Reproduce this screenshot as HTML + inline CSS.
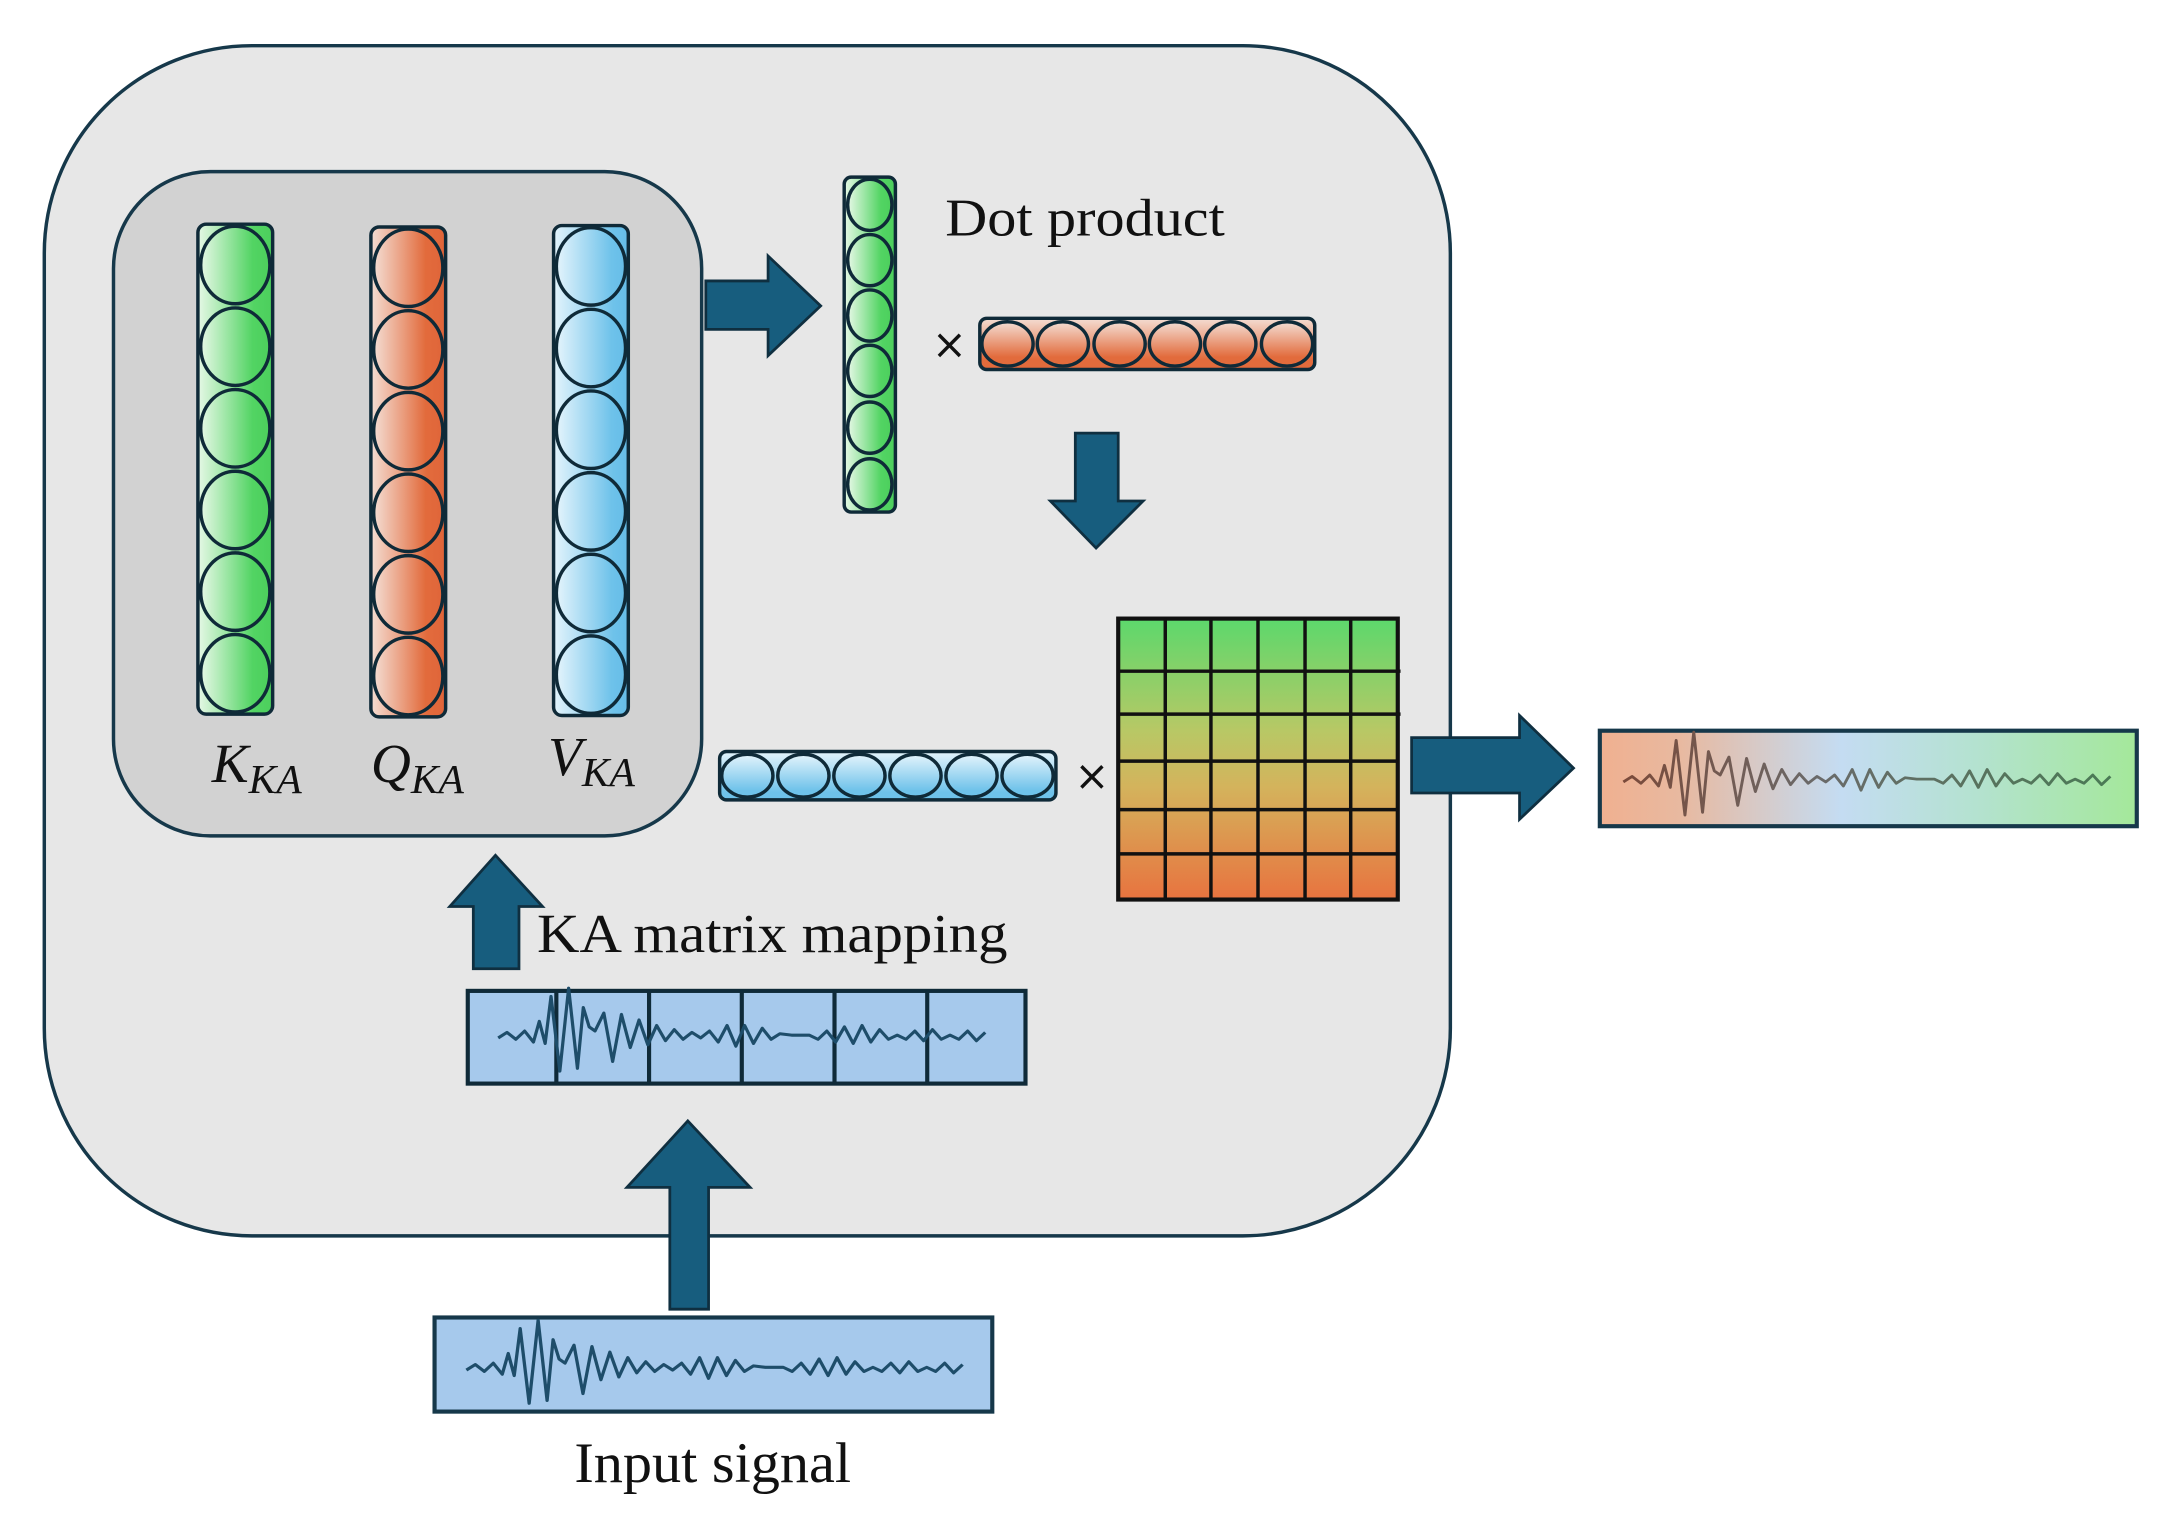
<!DOCTYPE html>
<html><head><meta charset="utf-8"><style>html,body{margin:0;padding:0;background:#fff}svg{display:block}</style></head>
<body>
<svg width="2170" height="1523" viewBox="0 0 1568 1100.5" xmlns="http://www.w3.org/2000/svg">
<defs>
<linearGradient id="gG" x1="0" x2="1" y1="0" y2="0"><stop offset="0" stop-color="#e6f8e6"/><stop offset="0.75" stop-color="#52d463"/><stop offset="1" stop-color="#4ccf5c"/></linearGradient>
<linearGradient id="gO" x1="0" x2="1" y1="0" y2="0"><stop offset="0" stop-color="#f4ddd3"/><stop offset="0.75" stop-color="#e26b3c"/><stop offset="1" stop-color="#e0653a"/></linearGradient>
<linearGradient id="gB" x1="0" x2="1" y1="0" y2="0"><stop offset="0" stop-color="#e4f4fc"/><stop offset="0.8" stop-color="#6ec2ea"/><stop offset="1" stop-color="#66bde8"/></linearGradient>
<linearGradient id="gOv" x1="0" x2="0" y1="0" y2="1"><stop offset="0" stop-color="#f4ddd3"/><stop offset="0.8" stop-color="#e26b3c"/></linearGradient>
<linearGradient id="gBv" x1="0" x2="0" y1="0" y2="1"><stop offset="0" stop-color="#e4f4fc"/><stop offset="0.85" stop-color="#6ec2ea"/></linearGradient>
<linearGradient id="gM" x1="0" x2="0" y1="0" y2="1"><stop offset="0" stop-color="#5cd86c"/><stop offset="0.4" stop-color="#b8c865"/><stop offset="0.6" stop-color="#d4b35c"/><stop offset="1" stop-color="#e8733f"/></linearGradient>
<linearGradient id="gOut" x1="0" x2="1" y1="0" y2="0"><stop offset="0" stop-color="#f0b090"/><stop offset="0.15" stop-color="#e8b9a0"/><stop offset="0.45" stop-color="#c4dcf2"/><stop offset="0.7" stop-color="#b4e2d0"/><stop offset="1" stop-color="#a4e89a"/></linearGradient>
<linearGradient id="gWave" x1="0" x2="1" y1="0" y2="0"><stop offset="0" stop-color="#7a4a3a"/><stop offset="0.4" stop-color="#6a6a6a"/><stop offset="1" stop-color="#4a7a55"/></linearGradient>
<path id="wave" fill="none" stroke-linejoin="round" d="M0,2 L6,-2 L12,3 L18,-3 L24,5 L28,-10 L32,6 L36,-28 L42,26 L48,-34 L54,24 L58,-20 L62,-6 L66,-3 L72,-16 L78,19 L84,-15 L90,9 L96,-11 L102,7 L108,-7 L114,4 L120,-4 L126,3 L132,-2 L138,2 L144,-3 L150,5 L156,-7 L162,8 L168,-7 L174,6 L180,-5 L186,3 L192,-1 L200,0 L212,0 L218,3 L224,-3 L230,5 L236,-6 L242,6 L248,-7 L254,5 L260,-4 L266,3 L272,0 L278,3 L284,-3 L290,4 L296,-4 L302,3 L308,0 L314,3 L320,-3 L326,4 L332,-2"/>
</defs>

<rect x="32" y="33" width="1016" height="860" rx="150" fill="#e7e7e7" stroke="#16384a" stroke-width="2.5"/>
<rect x="82" y="124" width="425" height="480" rx="70" fill="#d2d2d2" stroke="#16384a" stroke-width="2.5"/>

<g stroke="#0f2a38" stroke-width="2.5">
<rect x="143" y="162" width="54" height="354" rx="6" fill="url(#gG)"/>
<g fill="url(#gG)">
<ellipse cx="170" cy="191.5" rx="25" ry="28"/><ellipse cx="170" cy="250.5" rx="25" ry="28"/><ellipse cx="170" cy="309.5" rx="25" ry="28"/><ellipse cx="170" cy="368.5" rx="25" ry="28"/><ellipse cx="170" cy="427.5" rx="25" ry="28"/><ellipse cx="170" cy="486.5" rx="25" ry="28"/></g>
<rect x="268" y="164" width="54" height="354" rx="6" fill="url(#gO)"/>
<g fill="url(#gO)">
<ellipse cx="295" cy="193.5" rx="25" ry="28"/><ellipse cx="295" cy="252.5" rx="25" ry="28"/><ellipse cx="295" cy="311.5" rx="25" ry="28"/><ellipse cx="295" cy="370.5" rx="25" ry="28"/><ellipse cx="295" cy="429.5" rx="25" ry="28"/><ellipse cx="295" cy="488.5" rx="25" ry="28"/></g>
<rect x="400" y="163" width="54" height="354" rx="6" fill="url(#gB)"/>
<g fill="url(#gB)">
<ellipse cx="427" cy="192.5" rx="25" ry="28"/><ellipse cx="427" cy="251.5" rx="25" ry="28"/><ellipse cx="427" cy="310.5" rx="25" ry="28"/><ellipse cx="427" cy="369.5" rx="25" ry="28"/><ellipse cx="427" cy="428.5" rx="25" ry="28"/><ellipse cx="427" cy="487.5" rx="25" ry="28"/></g>

<rect x="610" y="128" width="37" height="242" rx="5" fill="url(#gG)"/>
<g fill="url(#gG)">
<ellipse cx="628.5" cy="148" rx="16" ry="18.5"/><ellipse cx="628.5" cy="188" rx="16" ry="18.5"/><ellipse cx="628.5" cy="228" rx="16" ry="18.5"/><ellipse cx="628.5" cy="268" rx="16" ry="18.5"/><ellipse cx="628.5" cy="309" rx="16" ry="18.5"/><ellipse cx="628.5" cy="350" rx="16" ry="18.5"/></g>

<rect x="708" y="230" width="242" height="37" rx="5" fill="url(#gOv)"/>
<g fill="url(#gOv)">
<ellipse cx="728" cy="248.5" rx="18.5" ry="16"/><ellipse cx="768" cy="248.5" rx="18.5" ry="16"/><ellipse cx="809" cy="248.5" rx="18.5" ry="16"/><ellipse cx="849" cy="248.5" rx="18.5" ry="16"/><ellipse cx="889" cy="248.5" rx="18.5" ry="16"/><ellipse cx="930" cy="248.5" rx="18.5" ry="16"/></g>

<rect x="520" y="543" width="243" height="35" rx="5" fill="url(#gBv)"/>
<g fill="url(#gBv)">
<ellipse cx="540" cy="560.5" rx="18.5" ry="15.5"/><ellipse cx="580.5" cy="560.5" rx="18.5" ry="15.5"/><ellipse cx="621" cy="560.5" rx="18.5" ry="15.5"/><ellipse cx="661.5" cy="560.5" rx="18.5" ry="15.5"/><ellipse cx="702" cy="560.5" rx="18.5" ry="15.5"/><ellipse cx="742.5" cy="560.5" rx="18.5" ry="15.5"/></g>
</g>

<g fill="#175d7e" stroke="#0f2f40" stroke-width="2">
<polygon points="510,203 555,203 555,185 593,221 555,257 555,238 510,238"/>
<polygon points="777,313 808,313 808,362 826,362 792,396 759,362 777,362"/>
<polygon points="1020,533 1098,533 1098,517 1137,555 1098,592 1098,573 1020,573"/>
<polygon points="342,700 342,655 325,655 358,618 392,655 375,655 375,700"/>
<polygon points="484,946 484,858 453,858 497,810 542,858 512,858 512,946"/>
</g>

<rect x="808" y="447" width="202" height="203" fill="url(#gM)" stroke="#111" stroke-width="3"/>
<g stroke="#111" stroke-width="2.5">
<line x1="842" y1="447" x2="842" y2="650"/><line x1="875" y1="447" x2="875" y2="650"/><line x1="909" y1="447" x2="909" y2="650"/><line x1="943" y1="447" x2="943" y2="650"/><line x1="976" y1="447" x2="976" y2="650"/>
<line x1="808" y1="485" x2="1012" y2="485"/><line x1="808" y1="516" x2="1012" y2="516"/><line x1="808" y1="550" x2="1010" y2="550"/><line x1="808" y1="585" x2="1010" y2="585"/><line x1="808" y1="617" x2="1010" y2="617"/>
</g>

<rect x="1156" y="528" width="388" height="69" fill="url(#gOut)" stroke="#16384a" stroke-width="3"/>
<use href="#wave" transform="translate(1173,563) scale(1.06,1)" stroke="url(#gWave)" stroke-width="2"/>

<rect x="338" y="716" width="403" height="67" fill="#a6c9ec" stroke="#0f2a38" stroke-width="3"/>
<g stroke="#0f2a38" stroke-width="3">
<line x1="402" y1="716" x2="402" y2="783"/><line x1="469" y1="716" x2="469" y2="783"/><line x1="536" y1="716" x2="536" y2="783"/><line x1="603" y1="716" x2="603" y2="783"/><line x1="670" y1="716" x2="670" y2="783"/>
</g>
<use href="#wave" transform="translate(360,748) scale(1.06,1)" stroke="#1e4d6a" stroke-width="2.2"/>

<rect x="314" y="952" width="403" height="68" fill="#a6c9ec" stroke="#16384a" stroke-width="3"/>
<use href="#wave" transform="translate(337,988) scale(1.08,1)" stroke="#1e4d6a" stroke-width="2.2"/>

<g font-family="Liberation Serif, serif" fill="#111">
<text x="683" y="170" font-size="38" textLength="202" lengthAdjust="spacingAndGlyphs">Dot product</text>
<text x="388" y="688" font-size="40" textLength="340" lengthAdjust="spacingAndGlyphs">KA matrix mapping</text>
<text x="415" y="1071" font-size="41" textLength="200" lengthAdjust="spacingAndGlyphs">Input signal</text>
</g>
<g font-family="DejaVu Sans, sans-serif" fill="#111" font-size="30">
<text x="686" y="259" text-anchor="middle">×</text>
<text x="789" y="571" text-anchor="middle">×</text>
</g>
<g font-family="Liberation Serif, serif" font-style="italic" fill="#111">
<text x="153" y="565" font-size="40">K<tspan font-size="30" dy="8">KA</tspan></text>
<text x="268" y="565" font-size="40">Q<tspan font-size="30" dy="8">KA</tspan></text>
<text x="396" y="560" font-size="40">V<tspan font-size="30" dy="8">KA</tspan></text>
</g>
</svg>
</body></html>
